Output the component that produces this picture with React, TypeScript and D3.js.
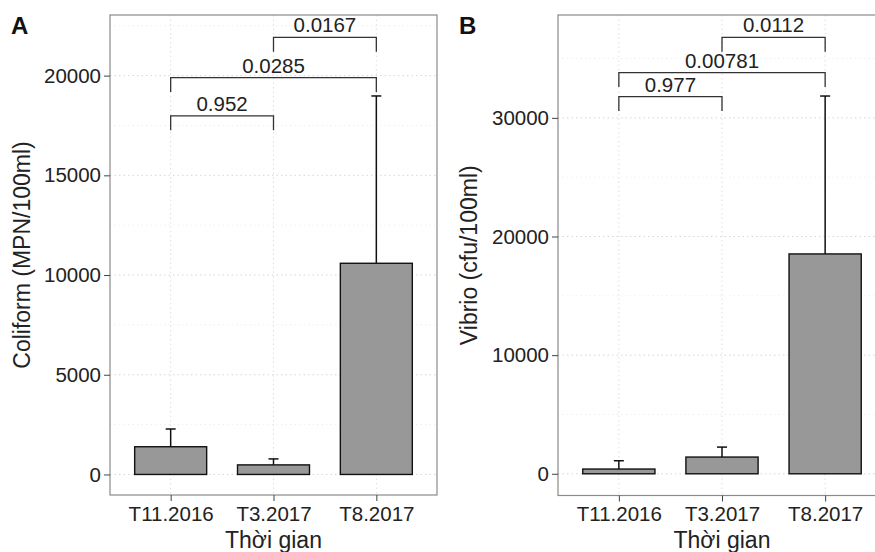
import React, { useEffect, useRef } from "react";
import * as d3 from "d3";

// categories on the x axis
const categories = ["T11.2016", "T3.2017", "T8.2017"];

// panel A: Coliform (MPN/100ml)
const coliformMean = [1390, 480, 10590];
const coliformSd = [890, 300, 8390];
const coliformTicks = [0, 5000, 10000, 15000, 20000];
const coliformPairs = [
  { a: 0, b: 1, label: "0.952", y: 17980 },
  { a: 0, b: 2, label: "0.0285", y: 19900 },
  { a: 1, b: 2, label: "0.0167", y: 21920 },
];

// panel B: Vibrio (cfu/100ml)
const vibrioMean = [400, 1410, 18530];
const vibrioSd = [700, 840, 13310];
const vibrioTicks = [0, 10000, 20000, 30000];
const vibrioPairs = [
  { a: 0, b: 1, label: "0.977", y: 31790 },
  { a: 0, b: 2, label: "0.00781", y: 33810 },
  { a: 1, b: 2, label: "0.0112", y: 36790 },
];

const FONT = "'Liberation Sans', Arial, sans-serif";

const drawPanel = (svg, opts) => {
  const { left, right, top, bottom, domain, mean, sd, ticks, pairs, title, tag, tagX, titleX } = opts;
  const g = svg.append("g");

  const x = d3.scalePoint().domain(categories).range([left, right]).padding(0.59);
  const y = d3.scaleLinear().domain(domain).range([bottom, top]);
  const barW = x.step() * 0.7;

  // minor grid
  const minor = ticks.slice(0, -1).map((t, i) => (t + ticks[i + 1]) / 2);
  minor.push(ticks[ticks.length - 1] + (ticks[1] - ticks[0]) / 2);
  g.selectAll(".minor")
    .data(minor.filter(v => v < domain[1]))
    .enter()
    .append("line")
    .attr("x1", left).attr("x2", right)
    .attr("y1", d => y(d)).attr("y2", d => y(d))
    .attr("stroke", "#efefef")
    .attr("stroke-dasharray", "1.5 3");

  // major grid
  g.selectAll(".majorY")
    .data(ticks)
    .enter()
    .append("line")
    .attr("x1", left).attr("x2", right)
    .attr("y1", d => y(d)).attr("y2", d => y(d))
    .attr("stroke", "#d6d6d6")
    .attr("stroke-dasharray", "1.5 3");
  g.selectAll(".majorX")
    .data(categories)
    .enter()
    .append("line")
    .attr("x1", d => x(d)).attr("x2", d => x(d))
    .attr("y1", top).attr("y2", bottom)
    .attr("stroke", "#dedede")
    .attr("stroke-dasharray", "1.5 3");

  // error bars (upper only)
  categories.forEach((c, i) => {
    const cx = x(c);
    g.append("line")
      .attr("x1", cx).attr("x2", cx)
      .attr("y1", y(mean[i])).attr("y2", y(mean[i] + sd[i]))
      .attr("stroke", "#111").attr("stroke-width", 1.5);
    g.append("line")
      .attr("x1", cx - 5).attr("x2", cx + 5)
      .attr("y1", y(mean[i] + sd[i])).attr("y2", y(mean[i] + sd[i]))
      .attr("stroke", "#111").attr("stroke-width", 1.5);
  });

  // bars
  g.selectAll(".bar")
    .data(categories)
    .enter()
    .append("rect")
    .attr("x", d => x(d) - barW / 2)
    .attr("width", barW)
    .attr("y", (d, i) => y(mean[i]))
    .attr("height", (d, i) => y(0) - y(mean[i]))
    .attr("fill", "#989898")
    .attr("stroke", "#111")
    .attr("stroke-width", 1.4);

  // significance brackets
  const tip = (domain[1] - domain[0]) * 0.03;
  pairs.forEach(p => {
    const x1 = x(categories[p.a]);
    const x2 = x(categories[p.b]);
    g.append("path")
      .attr("d", `M${x1},${y(p.y - tip)}V${y(p.y)}H${x2}V${y(p.y - tip)}`)
      .attr("fill", "none")
      .attr("stroke", "#333")
      .attr("stroke-width", 1.3);
    g.append("text")
      .attr("x", (x1 + x2) / 2)
      .attr("y", y(p.y) - 5)
      .attr("text-anchor", "middle")
      .style("font-family", FONT)
      .style("font-size", "20.5px")
      .attr("fill", "#222")
      .text(p.label);
  });

  // panel border
  g.append("rect")
    .attr("x", left).attr("y", top)
    .attr("width", right - left).attr("height", bottom - top)
    .attr("fill", "none")
    .attr("stroke", "#8a8a8a")
    .attr("stroke-width", 1.2);

  // y axis
  const yAxis = g.append("g")
    .attr("transform", `translate(${left},0)`)
    .call(d3.axisLeft(y).tickValues(ticks).tickSize(6).tickPadding(3).tickFormat(d3.format("d")));
  yAxis.select(".domain").remove();
  yAxis.selectAll("line").attr("stroke", "#444");
  yAxis.selectAll("text")
    .style("font-family", FONT)
    .style("font-size", "20.5px")
    .attr("fill", "#222");

  // x axis
  const xAxis = g.append("g")
    .attr("transform", `translate(0,${bottom})`)
    .call(d3.axisBottom(x).tickSize(6).tickPadding(5));
  xAxis.select(".domain").remove();
  xAxis.selectAll("line").attr("stroke", "#444");
  xAxis.selectAll("text")
    .style("font-family", FONT)
    .style("font-size", "20.5px")
    .attr("fill", "#222");

  // axis titles
  g.append("text")
    .attr("transform", `translate(${titleX},${(top + bottom) / 2}) rotate(-90)`)
    .attr("text-anchor", "middle")
    .attr("dy", "0.35em")
    .style("font-family", FONT)
    .style("font-size", "23px")
    .attr("fill", "#222")
    .text(title);
  g.append("text")
    .attr("x", (left + right) / 2)
    .attr("y", 548)
    .attr("text-anchor", "middle")
    .style("font-family", FONT)
    .style("font-size", "23px")
    .attr("fill", "#222")
    .text("Thời gian");

  // panel tag
  g.append("text")
    .attr("x", tagX)
    .attr("y", 34)
    .style("font-family", FONT)
    .style("font-size", "24px")
    .style("font-weight", "bold")
    .attr("fill", "#111")
    .text(tag);
};

const App = () => {
  const svgRef = useRef(null);

  useEffect(() => {
    const svg = d3.select(svgRef.current);
    svg.selectAll("*").remove();

    svg.append("rect").attr("width", 875).attr("height", 552).attr("fill", "#fff");

    drawPanel(svg, {
      left: 110, right: 437, top: 15, bottom: 495,
      domain: [-1030, 23040],
      mean: coliformMean, sd: coliformSd, ticks: coliformTicks, pairs: coliformPairs,
      title: "Coliform (MPN/100ml)", tag: "A", tagX: 11, titleX: 22,
    });

    drawPanel(svg, {
      left: 558, right: 886, top: 15, bottom: 495.5,
      domain: [-1830, 38670],
      mean: vibrioMean, sd: vibrioSd, ticks: vibrioTicks, pairs: vibrioPairs,
      title: "Vibrio (cfu/100ml)", tag: "B", tagX: 459, titleX: 469,
    });
  }, []);

  return (
    <svg
      ref={svgRef}
      width={875}
      height={552}
      style={{ position: "absolute", left: 0, top: 0 }}
    />
  );
};

export default App;
